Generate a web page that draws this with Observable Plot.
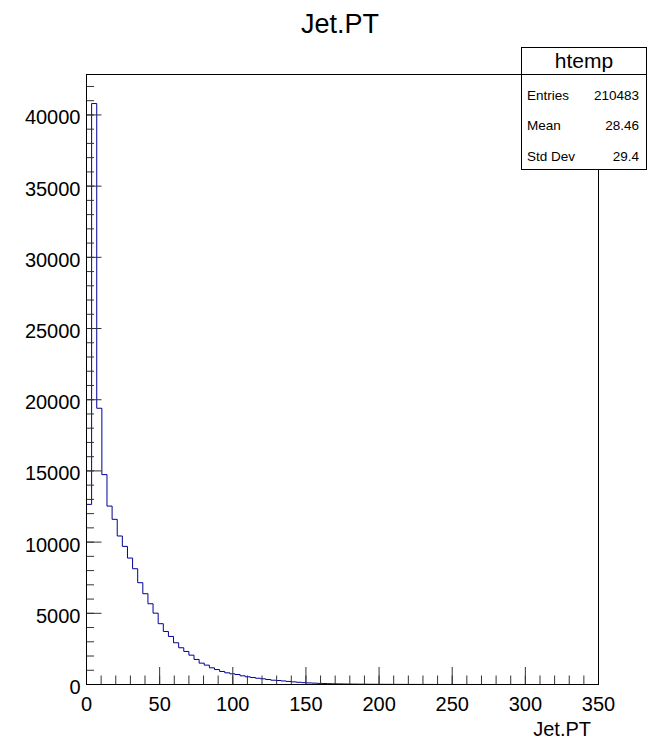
<!DOCTYPE html>
<html>
<head>
<meta charset="utf-8">
<script src="https://cdn.jsdelivr.net/npm/d3@7"></script>
<script src="https://cdn.jsdelivr.net/npm/@observablehq/plot@0.6"></script>
<style>
  html, body { margin: 0; padding: 0; background: white; }
</style>
</head>
<body>
<div id="chart"></div>
<script>
// ---- Data ----
const binWidth = 3.5; // 100 bins over 0–350
const counts = [
  12650, 40800, 19400, 14740, 12530, 11600, 10430, 9700, 8880, 8130,
  7150, 6375, 5670, 5010, 4270, 3725, 3375, 2930, 2580, 2320,
  2060, 1760, 1500, 1360, 1170, 1050, 915, 820, 750, 700,
  610, 540, 490, 440, 400, 350, 300, 280, 250, 215,
  185, 155, 130, 110, 95, 80, 68, 58, 50, 43,
  37, 32, 28, 24, 21, 18, 16, 14, 12, 11,
  10, 9, 8, 7, 6, 5, 5, 4, 4, 3,
  3, 3, 2, 2, 2, 2, 1, 1, 1, 1,
  1, 1, 1, 0, 1, 0, 0, 1, 0, 0,
  0, 0, 0, 0, 0, 0, 0, 0, 0, 0
];
const xMajorTicks = [0, 50, 100, 150, 200, 250, 300, 350];
const xMinorTicks = d3.range(0, 351, 10);
const yMajorTicks = [0, 5000, 10000, 15000, 20000, 25000, 30000, 35000, 40000];
const yMinorTicks = d3.range(0, 42001, 1000);
const titleText = "Jet.PT";
const xTitle = "Jet.PT";
const statsName = "htemp";
const statLabels = ["Entries", "Mean", "Std Dev"];
const statValues = ["210483", "28.46", "29.4"];

// Build step points from the bins
const steps = [{x: 0, y: 0}];
counts.forEach((c, i) => steps.push({x: i * binWidth, y: c}));
steps.push({x: counts.length * binWidth, y: counts[counts.length - 1]});

const W = 648, H = 741;
const mTop = 74, mBottom = 57, mLeft = 86, mRight = 50;
const frameH = H - mTop - mBottom;
const frameW = W - mLeft - mRight;
const font = "'Liberation Sans', Arial, Helvetica, sans-serif";

const svg = Plot.plot({
  width: W,
  height: H,
  marginTop: mTop,
  marginBottom: mBottom,
  marginLeft: mLeft,
  marginRight: mRight,
  style: {fontFamily: font, background: "white", color: "black"},
  x: {domain: [0, 350]},
  y: {domain: [0, Math.max(...counts) * 1.05]},
  marks: [
    Plot.line(steps, {x: "x", y: "y", curve: "step-after", stroke: "#000099", strokeWidth: 1}),
    Plot.ruleX(xMinorTicks, {x: d => d, insetTop: frameH - 8.5, stroke: "#333"}),
    Plot.ruleX(xMajorTicks, {x: d => d, insetTop: frameH - 17, stroke: "#333"}),
    Plot.ruleY(yMinorTicks, {y: d => d, insetRight: frameW - 8, stroke: "#333"}),
    Plot.ruleY(yMajorTicks, {y: d => d, insetRight: frameW - 15.5, stroke: "#333"}),
    Plot.axisX({ticks: xMajorTicks, tickSize: 0, tickPadding: 12, fontSize: 20, tickFormat: d => String(d), label: null}),
    Plot.axisY({ticks: yMajorTicks, tickSize: 0, tickPadding: 6, fontSize: 20, dy: 3, tickFormat: d => String(d), label: null}),
    Plot.frame({stroke: "black"})
  ]
});

const s = d3.select(svg);
s.append("text")
  .attr("x", 340).attr("y", 33)
  .attr("text-anchor", "middle")
  .attr("font-family", font).attr("font-size", 27)
  .attr("fill", "black")
  .text(titleText);

s.append("text")
  .attr("x", 591).attr("y", 736)
  .attr("text-anchor", "end")
  .attr("font-family", font).attr("font-size", 20)
  .attr("fill", "black")
  .text(xTitle);

// Stats box
const bx0 = 521.5, bx1 = 646.5, by0 = 47.5, by1 = 169.5;
s.append("rect")
  .attr("x", bx0).attr("y", by0)
  .attr("width", bx1 - bx0).attr("height", by1 - by0)
  .attr("fill", "white").attr("stroke", "black").attr("stroke-width", 1);
s.append("line")
  .attr("x1", bx0).attr("x2", bx1).attr("y1", 74.5).attr("y2", 74.5)
  .attr("stroke", "black");
s.append("text")
  .attr("x", (bx0 + bx1) / 2).attr("y", 68)
  .attr("text-anchor", "middle")
  .attr("font-family", font).attr("font-size", 21)
  .attr("fill", "black")
  .text(statsName);
const rowY = [99.5, 130, 160.5];
statLabels.forEach((lab, i) => {
  s.append("text")
    .attr("x", 527).attr("y", rowY[i])
    .attr("text-anchor", "start")
    .attr("font-family", font).attr("font-size", 13.5)
    .attr("fill", "black")
    .text(lab);
  s.append("text")
    .attr("x", 639).attr("y", rowY[i])
    .attr("text-anchor", "end")
    .attr("font-family", font).attr("font-size", 13.5)
    .attr("fill", "black")
    .text(statValues[i]);
});

document.getElementById("chart").appendChild(svg);
</script>
</body>
</html>
